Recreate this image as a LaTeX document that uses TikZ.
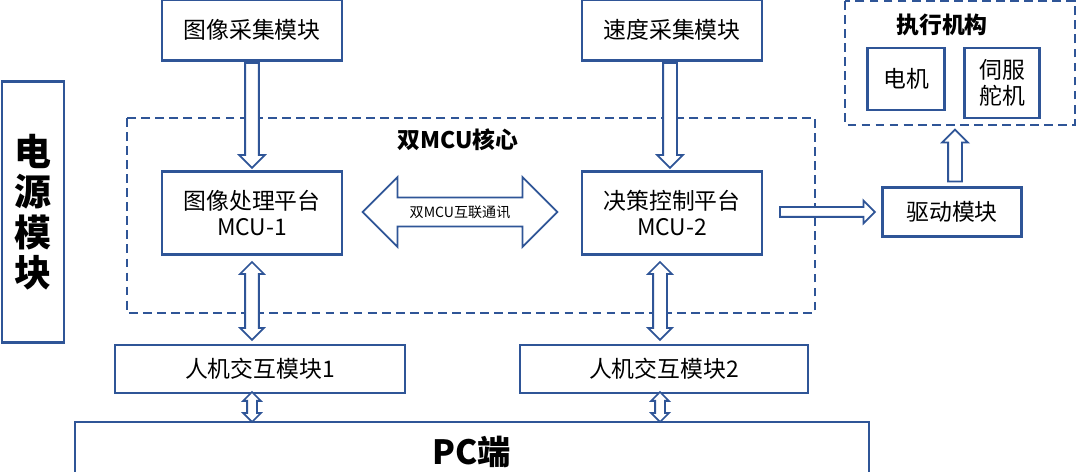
\documentclass[tikz,border=0pt]{standalone}
\usepackage{fontspec}
\setmainfont{Noto Sans CJK SC}
\usetikzlibrary{shapes.arrows,positioning}
\definecolor{edgeblue}{HTML}{2F5597}
\tikzset{
  box/.style={draw=edgeblue,line width=1.2pt,fill=white,inner sep=0pt,font=\fontsize{13}{15}\selectfont,align=center},
  frame/.style={draw=edgeblue,line width=1.2pt,dashed,dash pattern=on 5pt off 3pt},
  uparr/.style={single arrow,draw=edgeblue,line width=1pt,fill=white,inner xsep=0pt,inner ysep=0.12cm,single arrow head extend=0.12cm},
  twoarr/.style={double arrow,draw=edgeblue,line width=1pt,fill=white,inner xsep=0pt,inner ysep=0.12cm,double arrow head extend=0.1cm},
}
\begin{document}
\begin{tikzpicture}[x=0.02cm,y=-0.02cm]
  \useasboundingbox (0,0) rectangle (1080,472);

  % frames
  \draw[frame] (127,118) rectangle (815,313);
  \node[font=\bfseries\fontsize{13}{15}\selectfont] (core) at (458,140) {双MCU核心};
  \draw[frame] (845,1) rectangle (1075,125);
  \node[font=\bfseries\fontsize{13}{15}\selectfont] (exec) at (942,25) {执行机构};

  % boxes
  \node[box,minimum width=3.6cm,minimum height=1.22cm] (cam) at (252,30) {图像采集模块};
  \node[box,minimum width=3.6cm,minimum height=1.22cm] (spd) at (672,30) {速度采集模块};
  \node[box,minimum width=1.54cm,minimum height=1.24cm] (motor) at (906,79) {电机};
  \node[box,minimum width=1.5cm,minimum height=1.4cm] (servo) at (1002,83) {伺服\\舵机};
  \node[box,minimum width=1.24cm,minimum height=5.22cm,font=\bfseries\fontsize{21}{23}\selectfont] (power) at (33,212) {电\\源\\模\\块};
  \node[box,minimum width=3.6cm,minimum height=1.66cm] (mcu1) at (252,213) {图像处理平台\\MCU-1};
  \node[box,minimum width=3.6cm,minimum height=1.66cm] (mcu2) at (672,213) {决策控制平台\\MCU-2};
  \node[box,minimum width=2.78cm,minimum height=0.98cm] (drv) at (952,212) {驱动模块};
  \node[box,minimum width=5.8cm,minimum height=0.96cm] (hmi1) at (260,369) {人机交互模块1};
  \node[box,minimum width=5.76cm,minimum height=0.96cm] (hmi2) at (664,369) {人机交互模块2};
  \node[box,minimum width=15.9cm,minimum height=1.2cm,font=\bfseries\fontsize{19}{22}\selectfont] (pc) at (472,452) {PC端};

  % block arrows
  \node[uparr,rotate=-90,minimum height=2.1cm] (a1) at (252,112) {};
  \node[uparr,rotate=-90,minimum height=2.1cm] (a2) at (670,112) {};
  \node[double arrow,draw=edgeblue,line width=1pt,fill=white,inner sep=3pt,
        double arrow head extend=0.36cm,minimum width=1.4cm,minimum height=3.9cm,
        font=\fontsize{8}{9}\selectfont] (link) at (460,212) {双MCU互联通讯};
  \node[uparr,minimum height=1.9cm,inner ysep=0.08cm,single arrow head extend=0.13cm] (a3) at (825,212) {};
  \node[uparr,rotate=90,minimum height=1.04cm] (a4) at (955,159) {};
  \node[twoarr,rotate=90,minimum height=1.56cm] (b1) at (252,301) {};
  \node[twoarr,rotate=90,minimum height=1.56cm] (b2) at (660,301) {};
  \node[twoarr,rotate=90,minimum height=0.6cm,inner ysep=0.08cm,double arrow head extend=0.08cm] (c1) at (252,407) {};
  \node[twoarr,rotate=90,minimum height=0.6cm,inner ysep=0.08cm,double arrow head extend=0.08cm] (c2) at (660,407) {};
\end{tikzpicture}
\end{document}
